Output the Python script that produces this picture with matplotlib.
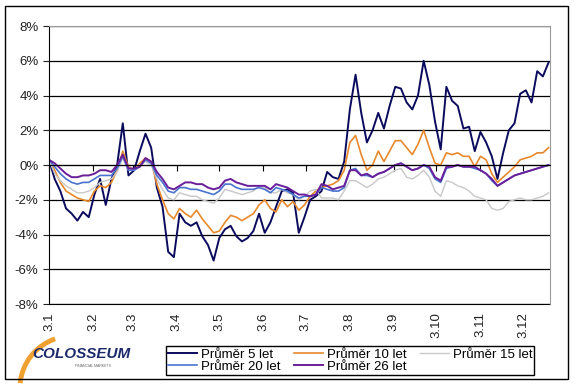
import matplotlib
matplotlib.use('Agg')
import matplotlib.pyplot as plt
from matplotlib.patches import Rectangle, Arc
import pandas as pd

# sample dates, every 4 days from 3 January
dates = pd.date_range('2007-01-03', '2007-12-21', freq='4D')

avg_5 = [0.3, -0.8, -1.5, -2.5, -2.8, -3.2, -2.7, -3.0, -1.7, -0.8,
         -2.3, -0.8, 0.0, 2.4, -0.6, -0.3, 0.8, 1.8, 1.0, -1.3,
         -2.4, -5.0, -5.3, -2.8, -3.3, -3.5, -3.3, -4.1, -4.6, -5.5,
         -4.2, -3.7, -3.5, -4.1, -4.4, -4.2, -3.8, -2.8, -3.9, -3.3,
         -2.4, -1.5, -1.4, -1.6, -3.9, -3.0, -2.0, -1.8, -1.5, -0.4,
         -0.7, -0.8, 0.2, 3.2, 5.2, 3.0, 1.3, 2.0, 3.0, 2.1,
         3.4, 4.5, 4.4, 3.6, 3.2, 4.0, 6.0, 4.6, 2.5, 0.9,
         4.5, 3.7, 3.4, 2.1, 2.2, 0.8, 1.9, 1.3, 0.5, -0.8,
         0.7, 2.0, 2.4, 4.1, 4.3, 3.6, 5.4, 5.1, 5.9]
avg_10 = [0.3, -0.3, -1.0, -1.5, -1.7, -1.9, -2.0, -2.1, -1.5, -1.2,
          -1.3, -1.0, -0.3, 0.8, -0.1, -0.3, 0.1, 0.4, 0.2, -1.1,
          -2.0, -2.8, -3.1, -2.5, -2.8, -3.0, -2.6, -3.1, -3.5, -3.9,
          -3.8, -3.3, -2.9, -3.0, -3.2, -3.0, -2.8, -2.3, -2.0, -2.5,
          -2.7, -2.0, -2.4, -2.1, -2.6, -2.3, -1.8, -1.5, -1.3, -1.2,
          -1.1, -0.9, -0.3, 1.3, 1.7, 0.6, -0.3, 0.0, 0.8, 0.2,
          0.8, 1.4, 1.4, 1.0, 0.6, 1.2, 2.0, 1.0, 0.1, 0.0,
          0.7, 0.6, 0.7, 0.5, 0.5, -0.1, 0.5, 0.3, -0.5, -1.0,
          -0.7, -0.4, -0.1, 0.3, 0.4, 0.5, 0.7, 0.7, 1.0]
avg_15 = [0.3, -0.5, -0.9, -1.2, -1.4, -1.6, -1.6, -1.5, -1.3, -1.0,
          -0.9, -0.8, -0.4, 0.4, -0.3, -0.3, 0.0, 0.2, 0.0, -0.8,
          -1.4, -1.9, -2.0, -1.6, -1.7, -1.8, -1.8, -2.0, -2.1, -2.2,
          -1.9, -1.4, -1.5, -1.6, -1.7, -1.6, -1.5, -1.2, -1.3, -1.6,
          -1.6, -1.4, -1.6, -1.7, -2.0, -1.8, -1.5, -1.4, -1.9, -1.9,
          -1.9, -2.0, -1.5, -0.9, -0.9, -1.1, -1.3, -1.1, -0.8, -0.7,
          -0.5, -0.3, -0.2, -0.7, -0.8, -0.6, -0.3, -0.7, -1.5, -1.8,
          -0.9, -1.0, -1.2, -1.3, -1.5, -1.8, -1.9, -2.0, -2.5, -2.6,
          -2.5, -2.1, -2.0, -1.9, -2.0, -2.0, -1.9, -1.8, -1.6]
avg_20 = [0.3, -0.1, -0.5, -0.8, -1.0, -1.1, -1.0, -1.0, -0.8, -0.6,
          -0.6, -0.6, -0.2, 0.5, -0.3, -0.3, -0.1, 0.3, 0.1, -0.6,
          -1.0, -1.5, -1.6, -1.3, -1.3, -1.4, -1.4, -1.5, -1.6, -1.7,
          -1.5, -1.1, -1.1, -1.3, -1.4, -1.4, -1.4, -1.3, -1.4, -1.6,
          -1.3, -1.4, -1.5, -1.7, -1.9, -1.8, -1.8, -1.7, -1.3, -1.4,
          -1.5, -1.5, -1.3, -0.3, -0.2, -0.6, -0.6, -0.7, -0.5, -0.4,
          -0.2, 0.0, 0.1, -0.1, -0.3, -0.2, 0.0, -0.2, -0.8, -1.0,
          -0.2, -0.1, 0.0, -0.1, -0.1, -0.2, -0.3, -0.5, -0.9, -1.2,
          -1.0, -0.8, -0.6, -0.5, -0.4, -0.3, -0.2, -0.1, 0.0]
avg_26 = [0.3, 0.1, -0.2, -0.5, -0.7, -0.7, -0.6, -0.6, -0.5, -0.3,
          -0.3, -0.4, 0.0, 0.6, -0.2, -0.2, -0.1, 0.4, 0.2, -0.4,
          -0.8, -1.3, -1.4, -1.2, -1.0, -1.0, -1.1, -1.1, -1.3, -1.4,
          -1.3, -0.9, -0.8, -1.0, -1.1, -1.2, -1.2, -1.2, -1.2, -1.4,
          -1.1, -1.2, -1.3, -1.5, -1.7, -1.7, -1.8, -1.7, -1.1, -1.2,
          -1.4, -1.3, -1.2, -0.3, -0.3, -0.6, -0.5, -0.7, -0.5, -0.4,
          -0.2, 0.0, 0.1, -0.1, -0.3, -0.2, 0.0, -0.1, -0.7, -0.9,
          -0.1, -0.1, 0.0, -0.1, -0.1, -0.1, -0.3, -0.5, -0.8, -1.2,
          -1.0, -0.8, -0.6, -0.5, -0.4, -0.3, -0.2, -0.1, 0.0]

labels = ['Průměr 5 let', 'Průměr 10 let', 'Průměr 15 let',
          'Průměr 20 let', 'Průměr 26 let']
colors = ['#0b0b5e', '#e8892c', '#c8c8c8', '#4a74d0', '#6a1f9a']
tick_labels = ['3.%d' % m for m in range(1, 13)]

plt.rcParams['font.family'] = ['Liberation Sans', 'DejaVu Sans']

fig = plt.figure(figsize=(5.75, 3.86), dpi=100)
ax = fig.add_axes([0.0852, 0.2124, 0.8713, 0.7202])

series = [avg_5, avg_10, avg_15, avg_20, avg_26]
widths = [1.4, 1.2, 1.0, 1.2, 1.4]
lines = []
for vals, lab, col, lw in zip(series, labels, colors, widths):
    ln, = ax.plot(dates, vals, color=col, lw=lw, label=lab)
    lines.append(ln)

# ticks on the 3rd day of each month
tick_dates = pd.date_range('2007-01-01', periods=12, freq='MS') + pd.Timedelta(days=2)
ax.set_xticks(tick_dates)
ax.set_xlim(pd.Timestamp('2007-01-03'), pd.Timestamp('2007-12-22'))
ax.set_ylim(-8, 8)
ax.set_yticks(range(-8, 9, 2))
ax.yaxis.set_major_formatter(plt.FuncFormatter(lambda v, p: '%d%%' % v))
ax.grid(axis='y', color='black', lw=0.9)
ax.set_axisbelow(True)

ax.spines['bottom'].set_position(('data', 0))
ax.spines['bottom'].set_color('black')
ax.tick_params(axis='x', direction='out', length=4, labelbottom=False)
ax.tick_params(axis='y', direction='out', length=4, labelsize=9.5, colors='#222222')
ax.spines['top'].set_color('#9a9a9a')
ax.spines['right'].set_color('#9a9a9a')
ax.spines['left'].set_color('black')

sec = ax.secondary_xaxis('bottom')
sec.set_xticks(tick_dates)
sec.set_xticklabels(tick_labels, rotation=90, fontsize=9.5, color='#222222')
sec.tick_params(length=0, pad=6)
sec.spines['bottom'].set_color('black')

order = [0, 3, 1, 4, 2]
fig.legend([lines[i] for i in order], [labels[i] for i in order],
           loc='center', bbox_to_anchor=(0.609, 0.066), ncol=3,
           fontsize=9.5, frameon=True, fancybox=False, edgecolor='black',
           framealpha=1, borderpad=0.15, labelspacing=0.0,
           handlelength=2.2, handletextpad=0.3, columnspacing=1.0)

# logo
fig.add_artist(Arc((0.1252, -0.0052), 0.181, 0.269, theta1=103, theta2=172,
                   transform=fig.transFigure, color='#f0a030', lw=3.5))
fig.text(0.056, 0.072, 'COLOSSEUM', fontsize=11, fontweight='bold',
         fontstyle='italic', color='#1c2a6b')
fig.text(0.13, 0.05, 'FINANCIAL MARKETS', fontsize=2.5, color='#666666')

fig.add_artist(Rectangle((0.008, 0.018), 0.98, 0.967, transform=fig.transFigure,
                         fill=False, edgecolor='black', lw=1.0))

plt.savefig('out.png', dpi=100)
